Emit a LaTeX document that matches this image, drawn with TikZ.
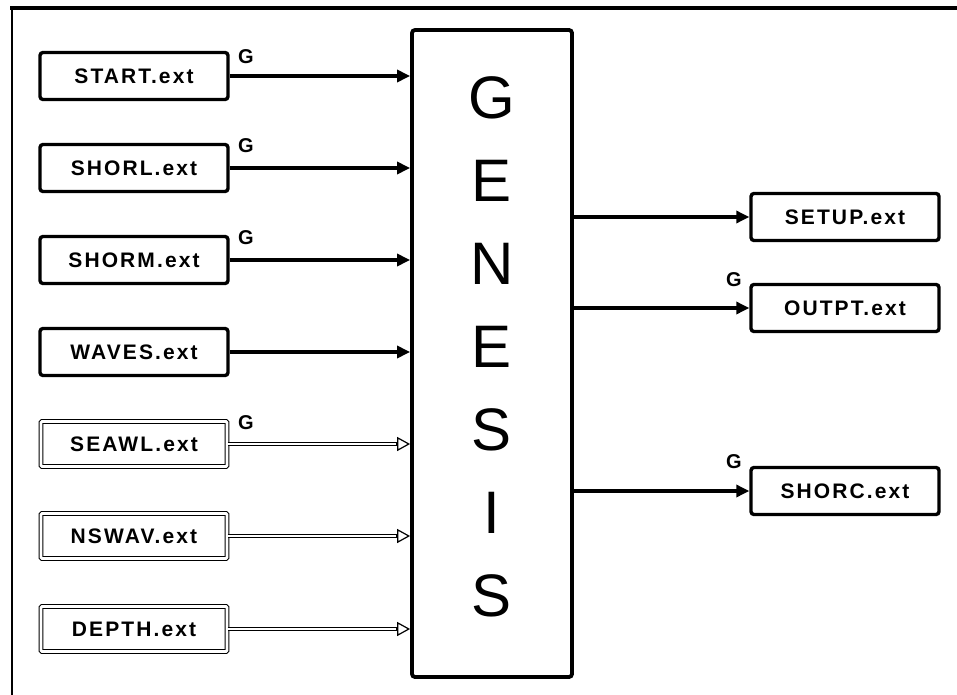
\documentclass[tikz,border=0pt]{standalone}
\usepackage{fontspec}
\setmainfont{Liberation Sans}
\usetikzlibrary{arrows.meta,calc}
\begin{document}
\begin{tikzpicture}[x=1pt,y=-1pt,
  filebox/.style={draw, line width=3.4pt, rounded corners=3pt, minimum width=188pt, minimum height=47pt, inner sep=0pt,
     font=\bfseries\fontsize{21}{22}\selectfont\addfontfeatures{LetterSpace=10}},
  dblbox/.style={draw, double, line width=1.1pt, double distance=2.6pt, rounded corners=1pt, minimum width=186pt, minimum height=45pt, inner sep=0pt,
     font=\bfseries\fontsize{21}{22}\selectfont\addfontfeatures{LetterSpace=10}},
  flow/.style={line width=3.2pt, -{Triangle[length=13pt,width=12pt]}},
  dflow/.style={double, line width=1.1pt, double distance=2.4pt, shorten >=11pt},
  dhead/.style={line width=1.2pt, -{Triangle[open,length=13pt,width=14pt,fill=white]}},
  glab/.style={font=\bfseries\fontsize{20}{21}\selectfont, inner sep=0pt},
  big/.style={font=\fontsize{60}{62}\selectfont, inner sep=0pt}
]
\useasboundingbox (0,0) rectangle (957,695);
% frame
\draw[line width=3.5pt] (10,8) -- (957,8);
\draw[line width=2.5pt] (12,8) -- (12,695);
% central box
\node[draw, line width=3.8pt, rounded corners=3pt, minimum width=160pt, minimum height=647pt, inner sep=0pt] (gen) at (492,353.5) {};
\foreach \c/\yy in {G/98,E/181,N/264,E/347,S/430,I/513,S/596}
  \node[big] at (492,\yy) {\c};
% input boxes
\node[filebox] (start) at (134,76) {START.ext};
\node[filebox] (shorl) at (134,168) {SHORL.ext};
\node[filebox] (shorm) at (134,260) {SHORM.ext};
\node[filebox] (waves) at (134,352) {WAVES.ext};
\node[dblbox] (seawl) at (134,444) {SEAWL.ext};
\node[dblbox] (nswav) at (134,536) {NSWAV.ext};
\node[dblbox] (depth) at (134,629) {DEPTH.ext};
\foreach \n in {start,shorl,shorm,waves}
  \draw[flow] (\n.east) -- (\n.east -| gen.west);
\foreach \n in {seawl,nswav,depth}{
  \draw[dflow] (\n.east) -- (\n.east -| gen.west);
  \draw[dhead] ($(\n.east -| gen.west)+(-14,0)$) -- (\n.east -| gen.west);
}
\node[glab] (g1) at (246,57) {G};
\node[glab] (g2) at (246,146) {G};
\node[glab] (g3) at (246,238) {G};
\node[glab] (g5) at (246,423) {G};
% outputs
\node[filebox] (setup) at (845,217) {SETUP.ext};
\node[filebox] (outpt) at (845,308) {OUTPT.ext};
\node[filebox] (shorc) at (845,491) {SHORC.ext};
\foreach \n in {setup,outpt,shorc}
  \draw[flow] (\n.west -| gen.east) -- (\n.west);
\node[glab] (g6) at (734,280) {G};
\node[glab] (g7) at (734,462) {G};
\end{tikzpicture}
\end{document}
